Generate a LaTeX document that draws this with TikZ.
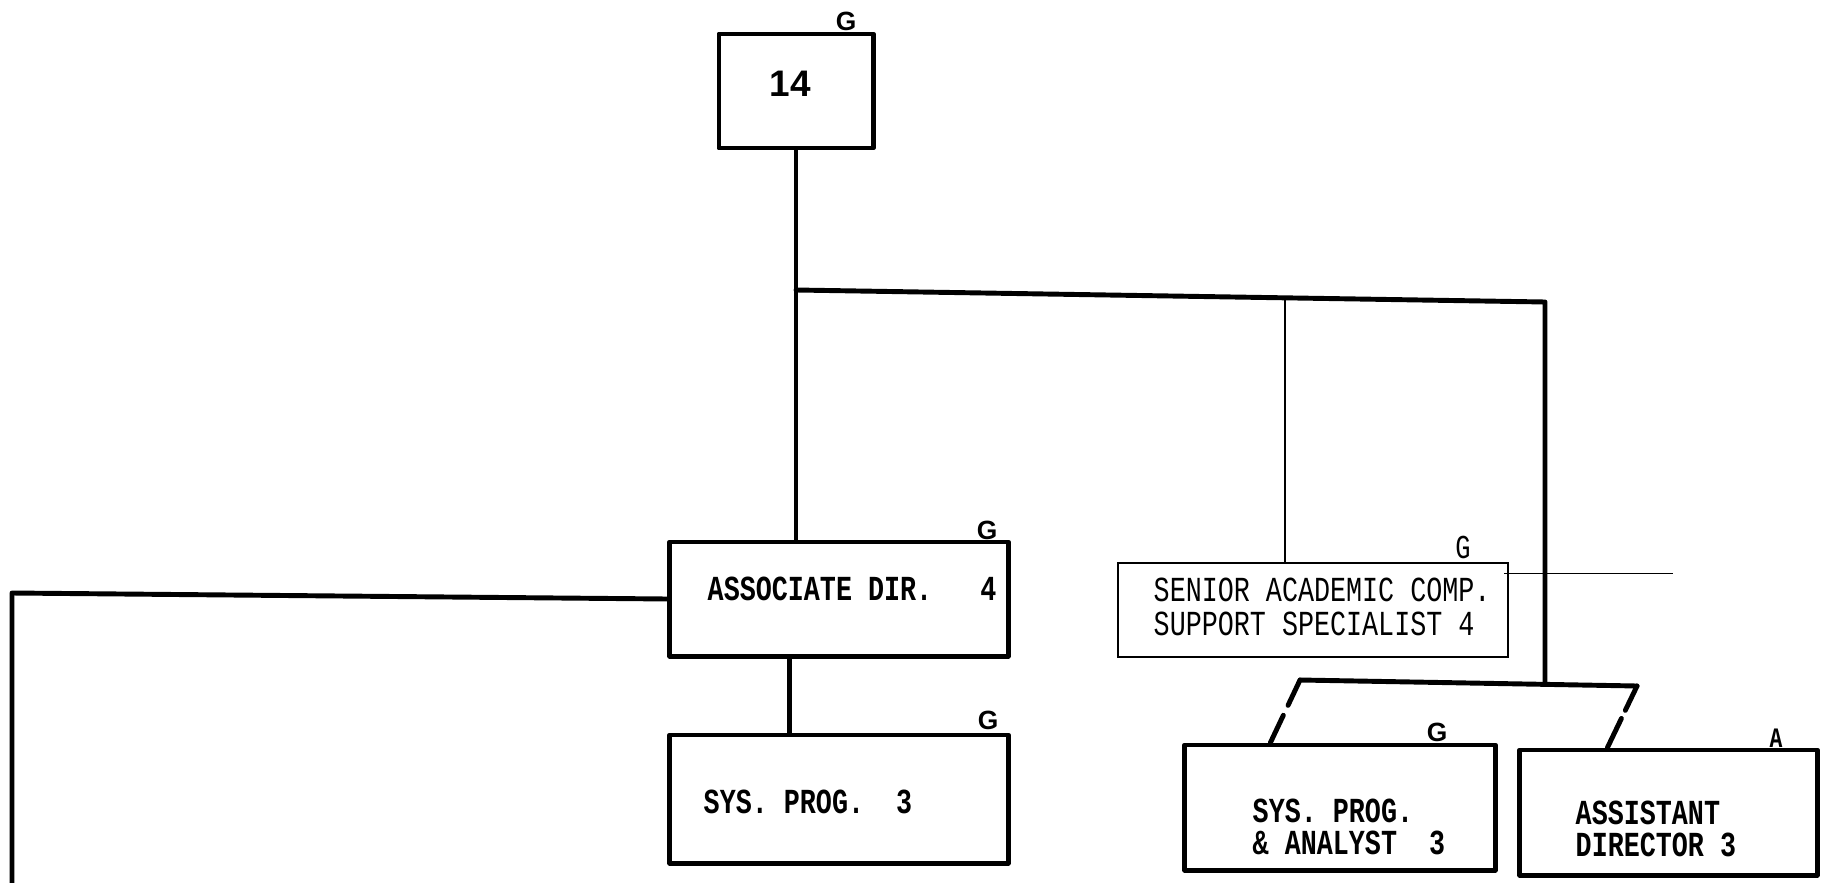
\documentclass[tikz,border=0pt]{standalone}
\usepackage{fontspec}
\usetikzlibrary{calc}
\newfontfamily\tw[FakeStretch=0.76]{Liberation Mono}
\newfontfamily\sfb{Liberation Sans}
\tikzset{
  box/.style={draw, line width=1.4pt, inner sep=0pt, line join=round},
  thinbox/.style={draw, line width=0.65pt, inner sep=0pt},
  conn/.style={line width=1.4pt, line cap=round, line join=round},
  thinconn/.style={line width=0.75pt},
  btext/.style={font={\tw\bfseries\fontsize{10}{9}\selectfont}, inner sep=0pt, anchor=west, align=left},
  rtext/.style={font={\tw\fontsize{10}{9.8}\selectfont}, inner sep=0pt, anchor=west, align=left},
  glab/.style={font={\sfb\bfseries\fontsize{7.5}{8}\selectfont}, inner sep=0pt},
  gmono/.style={font={\tw\fontsize{9.5}{10}\selectfont}, inner sep=0pt},
  amono/.style={font={\tw\bfseries\fontsize{8}{9}\selectfont}, inner sep=0pt},
  stray/.style={line width=0.35pt},
}
\begin{document}
\begin{tikzpicture}[x=0.01cm,y=-0.01cm]
\useasboundingbox (0,0) rectangle (1828,882);
\fill[white] (0,0) rectangle (1828,882);
% boxes
\node[box, minimum width=1.54cm, minimum height=1.14cm] (top) at (796,91) {};
\node[font={\sfb\bfseries\fontsize{10.5}{11}\selectfont}, inner sep=0pt] (topt) at (790,84) {14};
\node[box, minimum width=3.38cm, minimum height=1.14cm] (assoc) at (839,599) {};
\node[btext] (assoct) at (707,589) {ASSOCIATE DIR.~~~4};
\node[box, minimum width=3.38cm, minimum height=1.28cm] (sysp) at (839,799) {};
\node[btext] (syspt) at (703,802) {SYS. PROG.~~3};
\node[thinbox, minimum width=3.90cm, minimum height=0.94cm] (senior) at (1313,610) {};
\node[rtext] (seniort) at (1153,607) {SENIOR ACADEMIC COMP.\\SUPPORT SPECIALIST 4};
\node[box, minimum width=3.10cm, minimum height=1.25cm] (spa) at (1340,807.5) {};
\node[btext] (spat) at (1252,827) {SYS. PROG.\\\& ANALYST~~3};
\node[box, minimum width=2.97cm, minimum height=1.25cm] (asst) at (1668.5,812.5) {};
\node[btext] (asstt) at (1575,829) {ASSISTANT\\DIRECTOR 3};
% grade labels
\node[glab] (g1) at (846,21) {G};
\node[glab] (g2) at (987,530) {G};
\node[glab] (g3) at (988,720) {G};
\node[gmono] (g4) at (1463,547) {G};
\node[glab] (g5) at (1437,732) {G};
\node[amono] (g6) at (1776,738) {A};
% connectors
\coordinate (j1) at (796,290);
\coordinate (j2) at (1545,302);
\coordinate (j4) at (1545,684);
\coordinate (j3) at ($(j1)!0.653!(j2)$);
\coordinate (l1) at (12,593);
\coordinate (l2) at (12,895);
\coordinate (b1) at (1300,680);
\coordinate (b2) at (1637,686);
\draw[conn] (top.south) -- (j1);
\draw[conn] (j1) -- (assoc.north -| j1);
\draw[conn] (j1) -- (j2) -- (j4);
\draw[thinconn] (j3) -- (senior.north -| j3);
\draw[conn] ($(assoc.south west)+(122,0)$) -- ($(sysp.north west)+(122,0)$);
\draw[conn] (assoc.west) -- (l1) -- (l2);
\draw[conn] (b1) -- (b2);
\draw[conn, dash pattern=on 0.28cm off 0.11cm on 1cm] (b1) -- ($(spa.north west)+(88,0)$);
\draw[conn, dash pattern=on 0.27cm off 0.09cm on 1cm] (b2) -- ($(asst.north west)+(90,0)$);
\draw[stray] ($(senior.north east)+(-5,12)$) -- ++(169,0) coordinate (s1);
\end{tikzpicture}
\end{document}
